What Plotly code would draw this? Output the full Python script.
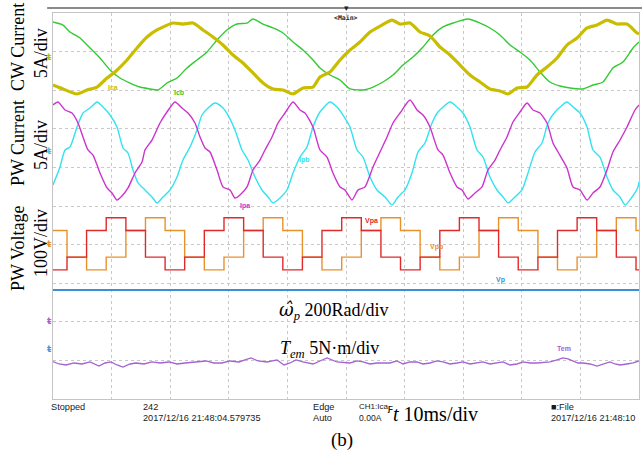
import plotly.graph_objects as go

# ---------------- data (time in ms, values in physical units) ----------------
T_ICA_MS = [0.00,1.71,4.10,5.80,7.51,9.22,10.58,12.63,14.33,16.04,17.75,20.48,22.18,23.89,25.60,27.30,29.01,30.72,32.42,34.13,
            35.84,37.54,39.25,40.96,42.66,44.37,45.56,47.27,48.98,50.68,52.39,54.10,56.14,57.85,59.22,60.92,62.63,64.33,66.04,67.75,
            69.45,71.16,72.87,74.57,76.28,77.65,79.18,80.89,82.59,84.30,86.01,87.71,89.42,91.13,92.83,94.54,96.25,97.95,99.66,100.0]
ICA_A = [-3.63,-4.14,-4.79,-4.27,-3.89,-2.72,-1.94,-0.39,1.17,2.59,3.50,4.40,4.27,4.40,3.50,2.59,1.55,0.26,-0.78,-2.07,
         -3.37,-4.14,-4.27,-4.79,-4.01,-3.89,-2.59,-1.94,-0.39,0.91,1.94,3.24,4.14,4.79,4.27,4.40,3.24,2.72,1.30,0.26,
         -1.04,-2.33,-3.24,-4.14,-4.40,-4.79,-4.01,-3.89,-2.33,-1.30,-0.13,1.55,2.46,3.76,4.14,4.79,4.27,4.27,3.11,3.00]

T_ICB_MS = [0.00,1.71,2.90,4.61,6.31,8.02,9.73,11.43,13.14,14.85,16.55,17.92,19.45,21.16,22.87,24.57,26.28,27.99,29.69,31.40,
            33.11,34.13,35.84,37.54,39.25,40.96,42.66,44.37,45.56,47.27,48.98,50.68,52.90,54.61,56.31,58.02,59.73,61.43,63.14,64.85,
            66.55,68.26,70.82,72.87,74.57,76.28,77.99,79.69,81.40,83.11,84.81,86.52,88.23,90.44,92.15,93.86,95.56,97.27,98.98,100.0]
ICB_A = [4.53,4.14,3.24,2.46,1.17,-0.13,-1.68,-2.72,-3.37,-3.89,-4.14,-4.27,-3.37,-2.72,-1.42,-0.39,0.65,2.20,3.50,4.27,
         4.40,4.92,4.27,3.76,3.11,1.94,0.91,-0.39,-1.42,-2.33,-2.98,-4.14,-4.27,-3.89,-3.24,-2.33,-1.04,0.00,1.30,2.85,
         3.89,4.40,4.92,4.40,3.76,2.85,1.55,0.65,-0.39,-1.94,-3.24,-3.76,-4.01,-4.14,-3.63,-3.24,-1.42,-0.65,1.17,1.94]

T_IPA_MS = [0.00,0.85,2.05,3.24,4.27,5.12,5.97,6.83,8.02,9.22,
            10.07,10.92,11.77,12.80,13.99,15.19,15.70,16.89,18.26,19.45,
            20.82,22.01,23.04,24.23,25.09,25.94,26.79,27.99,29.01,30.20,
            31.06,31.91,33.11,34.13,35.32,36.18,37.37,38.40,39.59,40.96,
            42.15,43.00,44.37,45.56,46.76,47.78,48.98,49.83,51.02,52.05,
            53.24,54.61,55.80,57.00,58.02,59.22,60.92,62.12,63.14,64.33,
            65.70,66.55,67.75,68.94,69.80,70.82,72.01,73.21,74.23,75.43,
            76.28,77.47,78.50,79.69,80.89,81.91,83.11,84.30,85.32,86.18,
            87.71,88.74,89.93,91.13,92.15,93.34,94.54,95.56,96.76,97.95,
            99.32,100.0]
IPA_A = [5.96,6.35,5.31,4.92,3.63,1.81,0.13,-0.52,-2.85,-4.79,
         -5.44,-6.35,-5.83,-4.79,-2.85,-1.42,0.13,1.42,3.63,5.05,
         6.35,5.57,4.92,3.63,1.81,0.39,-0.13,-2.46,-4.66,-5.05,
         -6.09,-5.70,-4.66,-2.46,-1.17,0.13,1.81,3.63,4.92,6.35,
         5.31,4.92,3.11,0.13,-0.78,-2.85,-4.66,-5.05,-6.35,-5.05,
         -4.66,-2.07,-0.13,1.81,3.63,4.92,6.60,5.31,4.66,3.11,
         0.13,-0.52,-2.85,-4.66,-5.05,-6.22,-5.44,-4.66,-2.46,-1.17,
         0.13,1.81,3.76,5.05,6.22,5.31,4.92,3.63,1.04,-0.13,
         -2.20,-4.66,-5.05,-6.35,-5.44,-4.66,-2.46,-0.13,1.42,3.11,
         5.31,5.96]

T_IPB_MS = [0.00,1.19,2.05,2.90,4.10,5.12,6.31,7.51,8.53,9.73,
            10.92,11.95,12.80,13.65,14.51,15.70,16.89,17.75,18.77,19.97,
            21.16,22.18,23.38,24.57,25.43,26.45,27.65,28.84,29.86,31.06,
            32.25,33.28,34.47,35.67,36.69,37.54,38.74,39.93,40.96,42.15,
            43.34,44.37,45.56,47.27,48.46,49.49,50.68,51.88,52.90,54.10,
            55.29,56.66,57.85,58.87,60.07,61.26,62.29,63.48,64.68,65.70,
            67.75,68.94,69.97,71.16,72.35,73.38,74.57,75.77,76.79,77.65,
            78.84,80.03,81.06,82.25,83.45,84.47,85.67,87.71,88.74,89.93,
            91.13,92.15,93.34,94.54,95.56,96.76,97.61,98.81,99.83,100.0]
IPB_A = [-4.40,-2.07,0.13,0.52,3.11,4.92,5.57,6.35,5.70,4.66,
         3.11,0.39,-0.26,-2.46,-4.14,-5.05,-5.96,-6.73,-5.96,-5.05,
         -3.37,-1.17,0.52,2.72,4.66,5.57,6.22,5.70,4.66,2.72,
         0.13,-1.17,-3.37,-5.05,-5.96,-6.73,-6.09,-5.05,-2.85,-0.78,
         0.52,3.11,5.05,6.35,5.70,4.66,3.11,0.13,-0.78,-3.37,
         -5.05,-5.96,-6.99,-5.96,-5.05,-2.85,-0.13,1.04,3.63,5.05,
         6.35,5.70,4.92,3.11,0.13,-0.78,-3.37,-5.05,-5.96,-6.73,
         -5.96,-5.05,-2.85,-0.13,1.04,3.63,5.05,6.35,5.70,4.92,
         3.11,0.13,-0.78,-3.37,-5.05,-5.96,-6.99,-5.96,-4.66,-4.01]

# PW voltage: switching instants (ms) and level held after each instant (V)
V_EDGES_MS = [2.39,5.73,9.08,12.44,15.78,19.13,22.47,25.82,29.18,32.53,35.87,39.22,42.56,45.90,49.27,
              52.61,55.96,59.30,62.65,66.01,69.35,72.70,76.04,79.39,82.75,86.09,89.44,92.78,96.13,99.49]
VPA_V = [-67,-34,35,68,35,-34, -67,-34,35,68,35,-34, -67,-34,35,68,35,-34,
         -67,-34,35,68,35,-34, -67,-34,35,68,35,-34, -67]
VPB_V = [35,-34,-67,-34,35,68, 35,-34,-67,-34,35,68, 35,-34,-67,-34,35,68,
         35,-34,-67,-34,35,68, 35,-34,-67,-34,35,68, 35]

T_W_MS = [0,10,20,30,40,50,60,70,80,90,100]
W_RAD = [305.8,306.2,305.6,306.0,306.3,305.7,306.1,305.9,306.2,305.8,306.0]

T_TEM_MS = [0.00,1.02,2.22,3.58,4.95,6.31,7.85,8.87,9.90,10.92,
            11.95,13.14,14.16,15.53,16.89,18.26,19.80,21.16,22.53,24.23,
            26.11,27.47,28.84,30.20,31.74,32.76,33.79,34.98,36.52,38.23,
            39.42,40.44,41.47,42.66,44.37,45.56,46.76,48.46,50.68,51.88,
            52.90,54.10,55.29,57.51,58.70,59.73,60.92,62.12,63.14,64.33,
            65.53,66.55,67.75,68.94,69.97,71.16,72.35,73.38,74.57,75.77,
            76.79,77.99,79.18,80.20,81.40,82.59,83.96,84.81,86.01,87.03,
            87.88,88.74,89.59,90.44,91.64,92.83,94.03,95.05,95.90,96.76,
            97.95,98.98,100.0]
TEM_NM = [-5.27,-5.57,-5.70,-5.44,-5.57,-5.31,-5.83,-5.44,-5.31,-5.70,
          -5.96,-5.57,-5.44,-5.57,-5.31,-5.44,-5.31,-5.57,-5.44,-5.31,
          -5.18,-5.44,-5.44,-5.18,-5.31,-5.05,-4.79,-5.18,-5.31,-5.05,
          -5.70,-5.44,-5.05,-5.31,-5.57,-5.18,-4.79,-5.31,-5.44,-5.18,
          -5.31,-5.57,-5.44,-5.44,-5.18,-5.57,-5.31,-5.31,-5.57,-5.44,
          -5.18,-5.31,-5.57,-5.44,-5.31,-5.57,-5.44,-5.31,-5.57,-5.44,
          -5.31,-5.70,-5.57,-5.31,-5.44,-5.44,-5.31,-5.31,-5.05,-4.79,
          -4.92,-5.18,-5.44,-5.44,-5.57,-5.83,-5.57,-5.31,-5.57,-5.70,
          -5.57,-5.44,-5.18]

# trace-end level markers on the right edge (channel units)
RIGHT_MARK = {"Icb": 4.40, "Ica": -1.42, "Ipb": -0.26, "Ipa": -4.79,
              "Vpa": 34, "Vpb": 26, "Vp": 306, "Tem": -5.18}

# ---------------- styling ----------------
C_ICA, C_ICB = "#c9bd00", "#33c933"
C_IPA, C_IPB = "#cc33cc", "#33e2ef"
C_VPA, C_VPB = "#e02a2a", "#e8922c"
C_W, C_TEM = "#3b8fd8", "#a462d2"
SERIF = "Liberation Serif"
SANS = "Liberation Sans"
MONO = "DejaVu Sans Mono"

# channel ground position (divisions from bottom) and units per division
CH = {"y2": (8.86, 5), "y3": (6.425, 5), "y4": (4.016, 100), "y5": (1.295, 200), "y6": (2.021, 5)}

def rng(key):
    g, s = CH[key]
    return [-g * s, (10 - g) * s]

fig = go.Figure()

def line(x, y, color, width, yaxis, shape="linear"):
    fig.add_trace(go.Scatter(x=x, y=y, mode="lines", yaxis=yaxis,
                             line=dict(color=color, width=width, shape=shape, smoothing=0.6),
                             hoverinfo="skip", showlegend=False))

line(T_ICB_MS, ICB_A, C_ICB, 1.4, "y2", "spline")
line(T_ICA_MS, ICA_A, C_ICA, 3.2, "y2", "spline")
line(T_IPB_MS, IPB_A, C_IPB, 1.4, "y3", "spline")
line(T_IPA_MS, IPA_A, C_IPA, 1.4, "y3", "spline")
vx = [0] + V_EDGES_MS + [100]
line(vx, VPB_V + [VPB_V[-1]], C_VPB, 1.4, "y4", "hv")
line(vx, VPA_V + [VPA_V[-1]], C_VPA, 1.4, "y4", "hv")
line(T_W_MS, W_RAD, C_W, 2.0, "y5", "spline")
line(T_TEM_MS, TEM_NM, C_TEM, 1.3, "y6", "linear")

# right-edge markers
rm = [("Icb", C_ICB, "y2"), ("Ica", C_ICA, "y2"), ("Ipb", C_IPB, "y3"), ("Ipa", C_IPA, "y3"),
      ("Vpb", C_VPB, "y4"), ("Vpa", C_VPA, "y4"), ("Vp", C_W, "y5"), ("Tem", C_TEM, "y6")]
for name, col, ax in rm:
    fig.add_trace(go.Scatter(x=[100.4], y=[RIGHT_MARK[name]], mode="markers", yaxis=ax,
                             marker=dict(color=col, size=5), cliponaxis=False,
                             hoverinfo="skip", showlegend=False))

ann = []
# left ground markers (placed at each channel's ground level)
for ax, col in [("y2", "#a6c21a"), ("y3", "#3ac8e8"), ("y4", "#e8922c"), ("y6", "#a462d2"), ("y5", "#4a94dc")]:
    ann.append(dict(xref="paper", yref="y", x=-0.006, y=CH[ax][0], text="<b>ŧ</b>", showarrow=False,
                    font=dict(family="DejaVu Sans", size=9, color=col), xanchor="center", yanchor="middle"))

# rotated left labels
for txt, x, y in [("CW Current", -0.0597, 0.912), ("5A/div", -0.0205, 0.896),
                  ("PW Current", -0.0597, 0.663), ("5A/div", -0.0205, 0.658),
                  ("PW Voltage", -0.0597, 0.391), ("100V/div", -0.0205, 0.404)]:
    ann.append(dict(xref="paper", yref="paper", x=x, y=y, text=txt, textangle=-90, showarrow=False,
                    font=dict(family=SERIF, size=18, color="black"), xanchor="center", yanchor="middle"))

# channel labels
for txt, x, y, col in [("Ica", 10.2, 8.06, C_ICA), ("Icb", 21.5, 7.95, C_ICB), ("Ipb", 43.0, 6.19, C_IPB),
                       ("Ipa", 32.8, 5.01, C_IPA), ("Vpa", 54.3, 4.61, C_VPA), ("Vpb", 65.4, 3.94, C_VPB),
                       ("Vp", 76.3, 3.08, C_W), ("Tem", 87.2, 1.32, C_TEM)]:
    ann.append(dict(xref="x", yref="y", x=x, y=y, text="<b>%s</b>" % txt, showarrow=False,
                    font=dict(family=SANS, size=7, color=col), xanchor="center", yanchor="middle"))

# in-plot scale texts
ann.append(dict(xref="paper", yref="paper", x=0.382, y=0.228, xanchor="left", yanchor="middle", showarrow=False,
                text='<span style="font-family:DejaVu Serif;font-style:italic">ω\u0302</span><sub><i>p</i></sub> 200Rad/div',
                font=dict(family=SERIF, size=18, color="black")))
ann.append(dict(xref="paper", yref="paper", x=0.384, y=0.127, xanchor="left", yanchor="middle", showarrow=False,
                text="<i>T</i><sub><i>em</i></sub> 5N·m/div", font=dict(family=SERIF, size=18, color="black")))

# top marker
ann.append(dict(xref="x", yref="paper", x=50, y=0.987, text="<b>&lt;Main&gt;</b>", showarrow=False,
                font=dict(family=MONO, size=6.5, color="#222"), xanchor="center", yanchor="middle"))
ann.append(dict(xref="x", yref="paper", x=50, y=1.012, text="▾", showarrow=False,
                font=dict(family=SANS, size=9, color="#222"), xanchor="center", yanchor="middle"))

# status bar
for txt, x, y, sz in [("Stopped", -0.006, -0.0207, 9.2), ("242", 0.150, -0.0207, 9.2),
                      ("2017/12/16 21:48:04.579735", 0.150, -0.0492, 9.2),
                      ("Edge", 0.440, -0.0207, 9.2), ("Auto", 0.440, -0.0492, 9.2),
                      ("CH1:Ica", 0.519, -0.0207, 8.0), ("0.00A", 0.519, -0.0492, 8.6),
                      ("■:File", 0.846, -0.0207, 9.2), ("2017/12/16 21:48:10", 0.846, -0.0492, 9.2)]:
    ann.append(dict(xref="paper", yref="paper", x=x, y=y, text=txt, showarrow=False,
                    font=dict(family=SANS, size=sz, color="#1a1a1a"), xanchor="left", yanchor="middle"))
ann.append(dict(xref="paper", yref="paper", x=0.566, y=-0.024, text="<b>Ƒ</b>", showarrow=False,
                font=dict(family=SANS, size=8, color="#1a1a1a"), xanchor="left", yanchor="middle"))
ann.append(dict(xref="paper", yref="paper", x=0.577, y=-0.040, text="<i>t</i> 10ms/div", showarrow=False,
                font=dict(family=SERIF, size=20, color="black"), xanchor="left", yanchor="middle"))
ann.append(dict(xref="paper", yref="paper", x=0.494, y=-0.106, text="(b)", showarrow=False,
                font=dict(family=SERIF, size=19, color="black"), xanchor="center", yanchor="middle"))

axcommon = dict(showticklabels=False, ticks="", zeroline=False, showgrid=True,
                gridcolor="#c9c9c9", griddash="dot", gridwidth=1,
                showline=True, mirror=True, linecolor="#c4c4c4", linewidth=1)

layout = dict(
    width=644, height=457, margin=dict(l=53, r=5, t=13, b=58),
    paper_bgcolor="white", plot_bgcolor="white", showlegend=False,
    xaxis=dict(range=[0, 100], dtick=10, **axcommon),
    yaxis=dict(range=[0, 10], dtick=1, **axcommon),
    annotations=ann,
    shapes=[dict(type="line", xref="paper", yref="paper", x0=-0.010, x1=1.005, y0=1.0129, y1=1.0129,
                 line=dict(color="#8a8a8a", width=2))],
)
for i, key in enumerate(["y2", "y3", "y4", "y5", "y6"], start=2):
    layout["yaxis%d" % i] = dict(overlaying="y", range=rng(key), visible=False, fixedrange=True)

fig.update_layout(**layout)
fig.write_html("out.html")
